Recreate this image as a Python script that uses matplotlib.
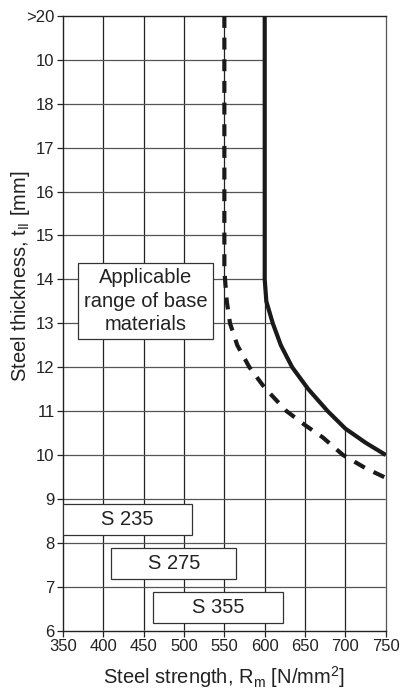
import matplotlib
matplotlib.use("Agg")
import matplotlib.pyplot as plt
from matplotlib.patches import Rectangle, Polygon

plt.rcParams['font.family'] = ['Liberation Sans', 'DejaVu Sans']
plt.rcParams['mathtext.fontset'] = 'custom'
plt.rcParams['mathtext.rm'] = 'Liberation Sans'
plt.rcParams['mathtext.it'] = 'Liberation Sans'
plt.rcParams['lines.scale_dashes'] = False

# --- data ---
x_ticks = [350, 400, 450, 500, 550, 600, 650, 700, 750]
y_ticks = [6, 7, 8, 9, 10, 11, 12, 13, 14, 15, 16, 17, 18, 19, 20]
y_tick_labels = ['6', '7', '8', '9', '10', '11', '12', '13', '14', '15', '16', '17', '18', '10', '>20']

solid_x = [600, 600, 600, 602, 610, 620, 634, 654, 678, 700, 725, 750]
solid_y = [20, 17, 14, 13.5, 13, 12.5, 12, 11.5, 11, 10.6, 10.28, 10.0]

dashed_x = [550, 550, 550, 553, 557, 566, 581, 600, 627, 650, 672, 697, 725, 750]
dashed_y = [20, 17, 14.2, 13.5, 13, 12.5, 12, 11.53, 11, 10.68, 10.4, 10.0, 9.7, 9.48]

box_labels = ['Applicable\nrange of base\nmaterials', 'S 235', 'S 275', 'S 355']
box_x0 = [369, 350, 410, 461]
box_x1 = [536, 510, 565, 623]
box_y0 = [12.64, 8.18, 7.17, 6.17]
box_y1 = [14.37, 8.88, 7.88, 6.89]

fig = plt.figure(figsize=(4.01, 6.93), dpi=100)
ax = fig.add_axes([0.157, 0.090, 0.805, 0.887])
ax.set_xlim(350, 750)
ax.set_ylim(6, 20)

# grid clipped to region left/below the solid curve
clip_pts = [(350, 6), (750, 6)] + list(zip(solid_x[::-1], solid_y[::-1])) + [(350, 20)]
clip = Polygon(clip_pts, closed=True, transform=ax.transData, facecolor='none', edgecolor='none')
ax.add_patch(clip)
for xv in x_ticks[1:-1]:
    ln = ax.axvline(xv, color='#222222', lw=0.9, zorder=1)
    ln.set_clip_path(clip)
for yv in y_ticks[1:-1]:
    ln = ax.axhline(yv, color='#555555', lw=0.9, zorder=1)
    ln.set_clip_path(clip)

ax.plot(solid_x, solid_y, color='#1a1a1a', lw=3.0, zorder=4, solid_capstyle='butt')
ax.plot(dashed_x, dashed_y, color='#1a1a1a', lw=3.0, zorder=4, dashes=(8.6, 7.0))

for lab, x0, x1, y0, y1 in zip(box_labels, box_x0, box_x1, box_y0, box_y1):
    ax.add_patch(Rectangle((x0, y0), x1 - x0, y1 - y0, facecolor='white',
                           edgecolor='#333333', lw=0.9, zorder=5))
    ax.text((x0 + x1) / 2, (y0 + y1) / 2, lab, ha='center', va='center',
            fontsize=14.5, color='#222222', zorder=6, linespacing=1.3)

ax.set_xticks(x_ticks)
ax.set_yticks(y_ticks)
ax.set_yticklabels(y_tick_labels)
ax.tick_params(axis='both', direction='out', length=4, width=0.9, labelsize=12,
               colors='#222222', pad=2)
for s in ['left', 'bottom', 'top']:
    ax.spines[s].set_color('#222222')
    ax.spines[s].set_linewidth(1.0)
ax.spines['right'].set_color('#555555')
ax.spines['right'].set_linewidth(0.9)

ax.set_xlabel('Steel strength, R$_\\mathrm{m}$ [N/mm$^\\mathrm{2}$]', fontsize=14.5, color='#222222', labelpad=7)
ax.set_ylabel('Steel thickness, t$_\\mathrm{II}$ [mm]', fontsize=14.5, color='#222222')
ax.yaxis.set_label_coords(-0.095, 0.576)

fig.savefig('out.png', dpi=100)
